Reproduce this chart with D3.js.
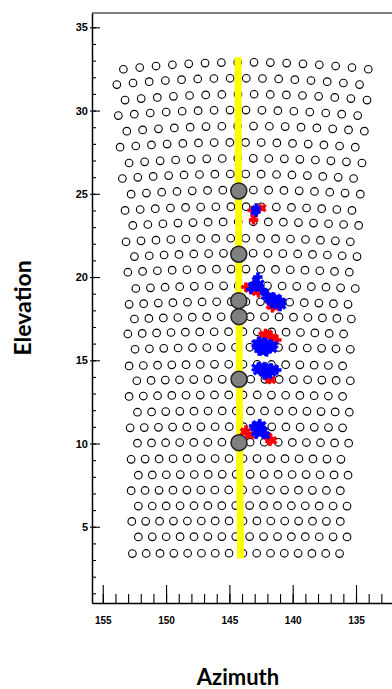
<!DOCTYPE html>
<html>
<head>
<meta charset="utf-8">
<script src="https://cdn.jsdelivr.net/npm/d3@7"></script>
<style>
  body { margin: 0; background: #fff; }
  svg { display: block; }
</style>
</head>
<body>
<div id="chart"></div>
<script>
// pointing grid, one entry per row from top to bottom
const rowElevation = [32.90, 31.94, 30.98, 30.03, 29.07, 28.09, 27.13, 26.19, 25.23, 24.23, 23.32, 22.33,
  21.43, 20.48, 19.48, 18.52, 17.62, 16.72, 15.78, 14.76, 13.86, 12.92, 11.96, 11.01, 10.08, 9.10, 8.15,
  7.21, 6.27, 5.35, 4.41, 3.41];
const rowAzLeft = [153.37, 153.89, 153.24, 153.77, 153.10, 153.63, 152.92, 153.45, 152.76, 153.24, 152.63,
  153.16, 152.50, 153.02, 152.39, 152.92, 152.50, 153.02, 152.45, 152.92, 152.31, 152.92, 152.26, 152.84,
  152.26, 152.76, 152.19, 152.76, 152.19, 152.71, 152.19, 152.66];
const rowAzRight = [134.03, 134.72, 134.13, 134.87, 134.34, 135.06, 134.53, 135.19, 134.66, 135.32, 134.79,
  135.45, 134.92, 135.53, 135.06, 135.63, 135.37, 135.98, 135.45, 136.06, 135.45, 136.06, 135.53, 136.06,
  135.58, 136.19, 135.63, 136.24, 135.71, 136.24, 135.71, 136.30];
// how far the row ends sit below the row middle (deg)
const rowSag = [0.42, 0.38, 0.35, 0.33, 0.31, 0.29, 0.28, 0.27, 0.25, 0.23, 0.22, 0.21, 0.20, 0.19, 0.17,
  0.16, 0.14, 0.14, 0.12, 0.10, 0.09, 0.09, 0.08, 0.07, 0.06, 0.05, 0.05, 0.04, 0.03, 0.03, 0.02, 0.02];
const perRow = 16;

// source track
const trackAz = [144.32, 144.30, 144.24, 144.18, 144.12];
const trackEl = [33.20, 28.00, 18.00, 8.00, 3.10];

const stopAz = [144.26, 144.26, 144.26, 144.24, 144.24, 144.24];
const stopEl = [25.17, 21.37, 18.58, 17.62, 13.86, 10.05];

const redAz = [143.09, 143.05, 143.20, 142.40,
  143.70, 143.50, 143.30, 142.90, 142.70, 141.80, 141.55, 141.35, 141.60,
  142.40, 142.15, 141.90, 141.70, 141.45, 141.25, 142.00,
  141.85, 141.65, 142.00,
  143.85, 143.60, 143.35, 143.70, 141.95, 141.75, 141.55, 141.80];
const redEl = [23.43, 23.55, 24.00, 24.15,
  19.40, 19.30, 19.25, 19.10, 19.05, 18.30, 18.25, 18.20, 18.15,
  16.50, 16.62, 16.60, 16.45, 16.35, 16.22, 16.40,
  13.85, 13.82, 13.95,
  10.70, 10.60, 10.50, 10.82, 10.42, 10.30, 10.18, 10.12];

const blueAz = [142.93, 142.88, 143.00, 142.90,
  143.25, 143.05, 142.90, 142.75, 142.55, 143.30, 142.70, 142.45, 142.25, 142.00, 141.75, 141.50,
  141.25, 141.00, 140.80, 142.10, 141.85, 141.55, 141.30, 141.05, 140.85, 141.65, 141.25, 141.00,
  142.95, 142.70, 142.45, 142.20, 141.95, 141.70, 141.45, 142.85, 142.55, 142.30, 142.05, 141.80,
  141.55, 142.65, 142.35, 142.05,
  142.95, 142.70, 142.45, 142.20, 141.95, 141.70, 141.45, 141.25, 142.80, 142.50, 142.20, 141.90,
  141.60, 142.25, 141.90,
  143.10, 142.85, 142.60, 142.40, 143.00, 142.75, 142.50, 142.25, 142.90, 142.60, 142.30, 142.10];
const blueEl = [24.05, 24.15, 23.95, 23.90,
  19.45, 19.60, 19.80, 20.00, 19.60, 19.25, 19.35, 19.25, 19.10, 18.95, 18.85, 18.80,
  18.75, 18.65, 18.50, 18.75, 18.65, 18.55, 18.50, 18.45, 18.30, 18.40, 18.30, 18.22,
  16.00, 16.15, 16.15, 16.10, 16.05, 16.00, 15.92, 15.75, 15.80, 15.78, 15.75, 15.72,
  15.68, 15.55, 15.50, 15.50,
  14.55, 14.62, 14.65, 14.62, 14.58, 14.55, 14.50, 14.42, 14.35, 14.35, 14.35, 14.30,
  14.25, 14.12, 14.10,
  11.05, 11.15, 11.20, 11.10, 10.85, 10.85, 10.85, 10.75, 10.55, 10.60, 10.55, 10.50];

const xMajor = [155, 150, 145, 140, 135];
const xMinor = d3.range(132, 156);
const yMajor = [5, 10, 15, 20, 25, 30, 35];
const yMinor = d3.range(1, 36);

const width = 392, height = 689;
const plotL = 92, plotR = 394, plotT = 13, plotB = 603;

const svg = d3.select('#chart').append('svg')
  .attr('width', width)
  .attr('height', height);

const x = d3.scaleLinear().domain([155.85, 132]).range([plotL, plotR]);
const y = d3.scaleLinear().domain([0.42, 35.86]).range([plotB, plotT]);

// grid circles
const grid = [];
rowElevation.forEach((el, r) => {
  const a0 = rowAzLeft[r], a1 = rowAzRight[r];
  const mid = (a0 + a1) / 2, half = (a0 - a1) / 2;
  for (let i = 0; i < perRow; i++) {
    const az = a0 + (a1 - a0) * i / (perRow - 1);
    const t = (az - mid) / half;
    grid.push({az: az, el: el - rowSag[r] * t * t});
  }
});

svg.append('g')
  .selectAll('circle')
  .data(grid)
  .enter()
  .append('circle')
  .attr('cx', d => x(d.az))
  .attr('cy', d => y(d.el))
  .attr('r', 3.8)
  .attr('fill', 'none')
  .attr('stroke', '#000')
  .attr('stroke-width', 1.1);

const line = d3.line().x(d => x(d[0])).y(d => y(d[1]));
svg.append('path')
  .datum(trackAz.map((a, i) => [a, trackEl[i]]))
  .attr('d', line)
  .attr('fill', 'none')
  .attr('stroke', '#ffff00')
  .attr('stroke-width', 7);

const marker = d3.symbol().type(d3.symbolCross).size(42);

svg.append('g')
  .selectAll('path')
  .data(redAz.map((a, i) => [a, redEl[i]]))
  .enter()
  .append('path')
  .attr('d', marker)
  .attr('transform', (d, i) => `translate(${x(d[0])},${y(d[1])}) rotate(${i % 2 ? 45 : 0})`)
  .attr('fill', '#ff0000')
  .attr('stroke', '#ff0000')
  .attr('stroke-width', 0.6);

svg.append('g')
  .selectAll('path')
  .data(blueAz.map((a, i) => [a, blueEl[i]]))
  .enter()
  .append('path')
  .attr('d', marker)
  .attr('transform', (d, i) => `translate(${x(d[0])},${y(d[1])}) rotate(${i % 2 ? 0 : 45})`)
  .attr('fill', '#0000ff')
  .attr('stroke', '#0000ff')
  .attr('stroke-width', 0.6);

svg.append('g')
  .selectAll('circle')
  .data(stopAz.map((a, i) => [a, stopEl[i]]))
  .enter()
  .append('circle')
  .attr('cx', d => x(d[0]))
  .attr('cy', d => y(d[1]))
  .attr('r', 8)
  .attr('fill', '#808080')
  .attr('stroke', '#222')
  .attr('stroke-width', 1.5);

// frame
svg.append('line')
  .attr('x1', plotL).attr('x2', plotR)
  .attr('y1', plotT).attr('y2', plotT)
  .attr('stroke', '#808080')
  .attr('stroke-width', 2);

svg.append('g').attr('transform', `translate(0,${plotB})`)
  .call(d3.axisBottom(x).tickValues(xMinor).tickSize(-9).tickFormat(''))
  .call(g => g.select('.domain').remove());
const gxMajor = svg.append('g').attr('transform', `translate(0,${plotB})`)
  .call(d3.axisBottom(x).tickValues(xMajor).tickSize(-18).tickPadding(14).tickSizeOuter(0).tickFormat(d3.format('d')));
gxMajor.select('.domain').attr('stroke-width', 1.5);

svg.append('g').attr('transform', `translate(${plotL},0)`)
  .call(d3.axisLeft(y).tickValues(yMinor).tickSize(-4).tickFormat(''))
  .call(g => g.select('.domain').remove());
const gy = svg.append('g').attr('transform', `translate(${plotL},0)`)
  .call(d3.axisLeft(y).tickValues(yMajor).tickSize(-8).tickPadding(4).tickSizeOuter(0));
gy.selectAll('.tick line').attr('x1', -2);
gy.select('.domain').attr('stroke-width', 1.5);

svg.selectAll('.tick line').attr('stroke', '#000').attr('stroke-width', 1.1);
gxMajor.selectAll('text').attr('font-family', 'Liberation Sans, Arial, sans-serif')
  .attr('font-weight', 'bold').attr('font-size', 10).attr('fill', '#000');
gy.selectAll('text').attr('font-family', 'Liberation Sans, Arial, sans-serif')
  .attr('font-weight', 'bold').attr('font-size', 11).attr('fill', '#000');

svg.append('text')
  .attr('transform', 'translate(31,308) rotate(-90)')
  .attr('text-anchor', 'middle')
  .attr('font-family', 'Lato, sans-serif')
  .attr('font-weight', 'bold')
  .attr('font-size', 23)
  .text('Elevation');

svg.append('text')
  .attr('x', 238)
  .attr('y', 685)
  .attr('text-anchor', 'middle')
  .attr('font-family', 'Lato, sans-serif')
  .attr('font-weight', 'bold')
  .attr('font-size', 22)
  .text('Azimuth');
</script>
</body>
</html>
